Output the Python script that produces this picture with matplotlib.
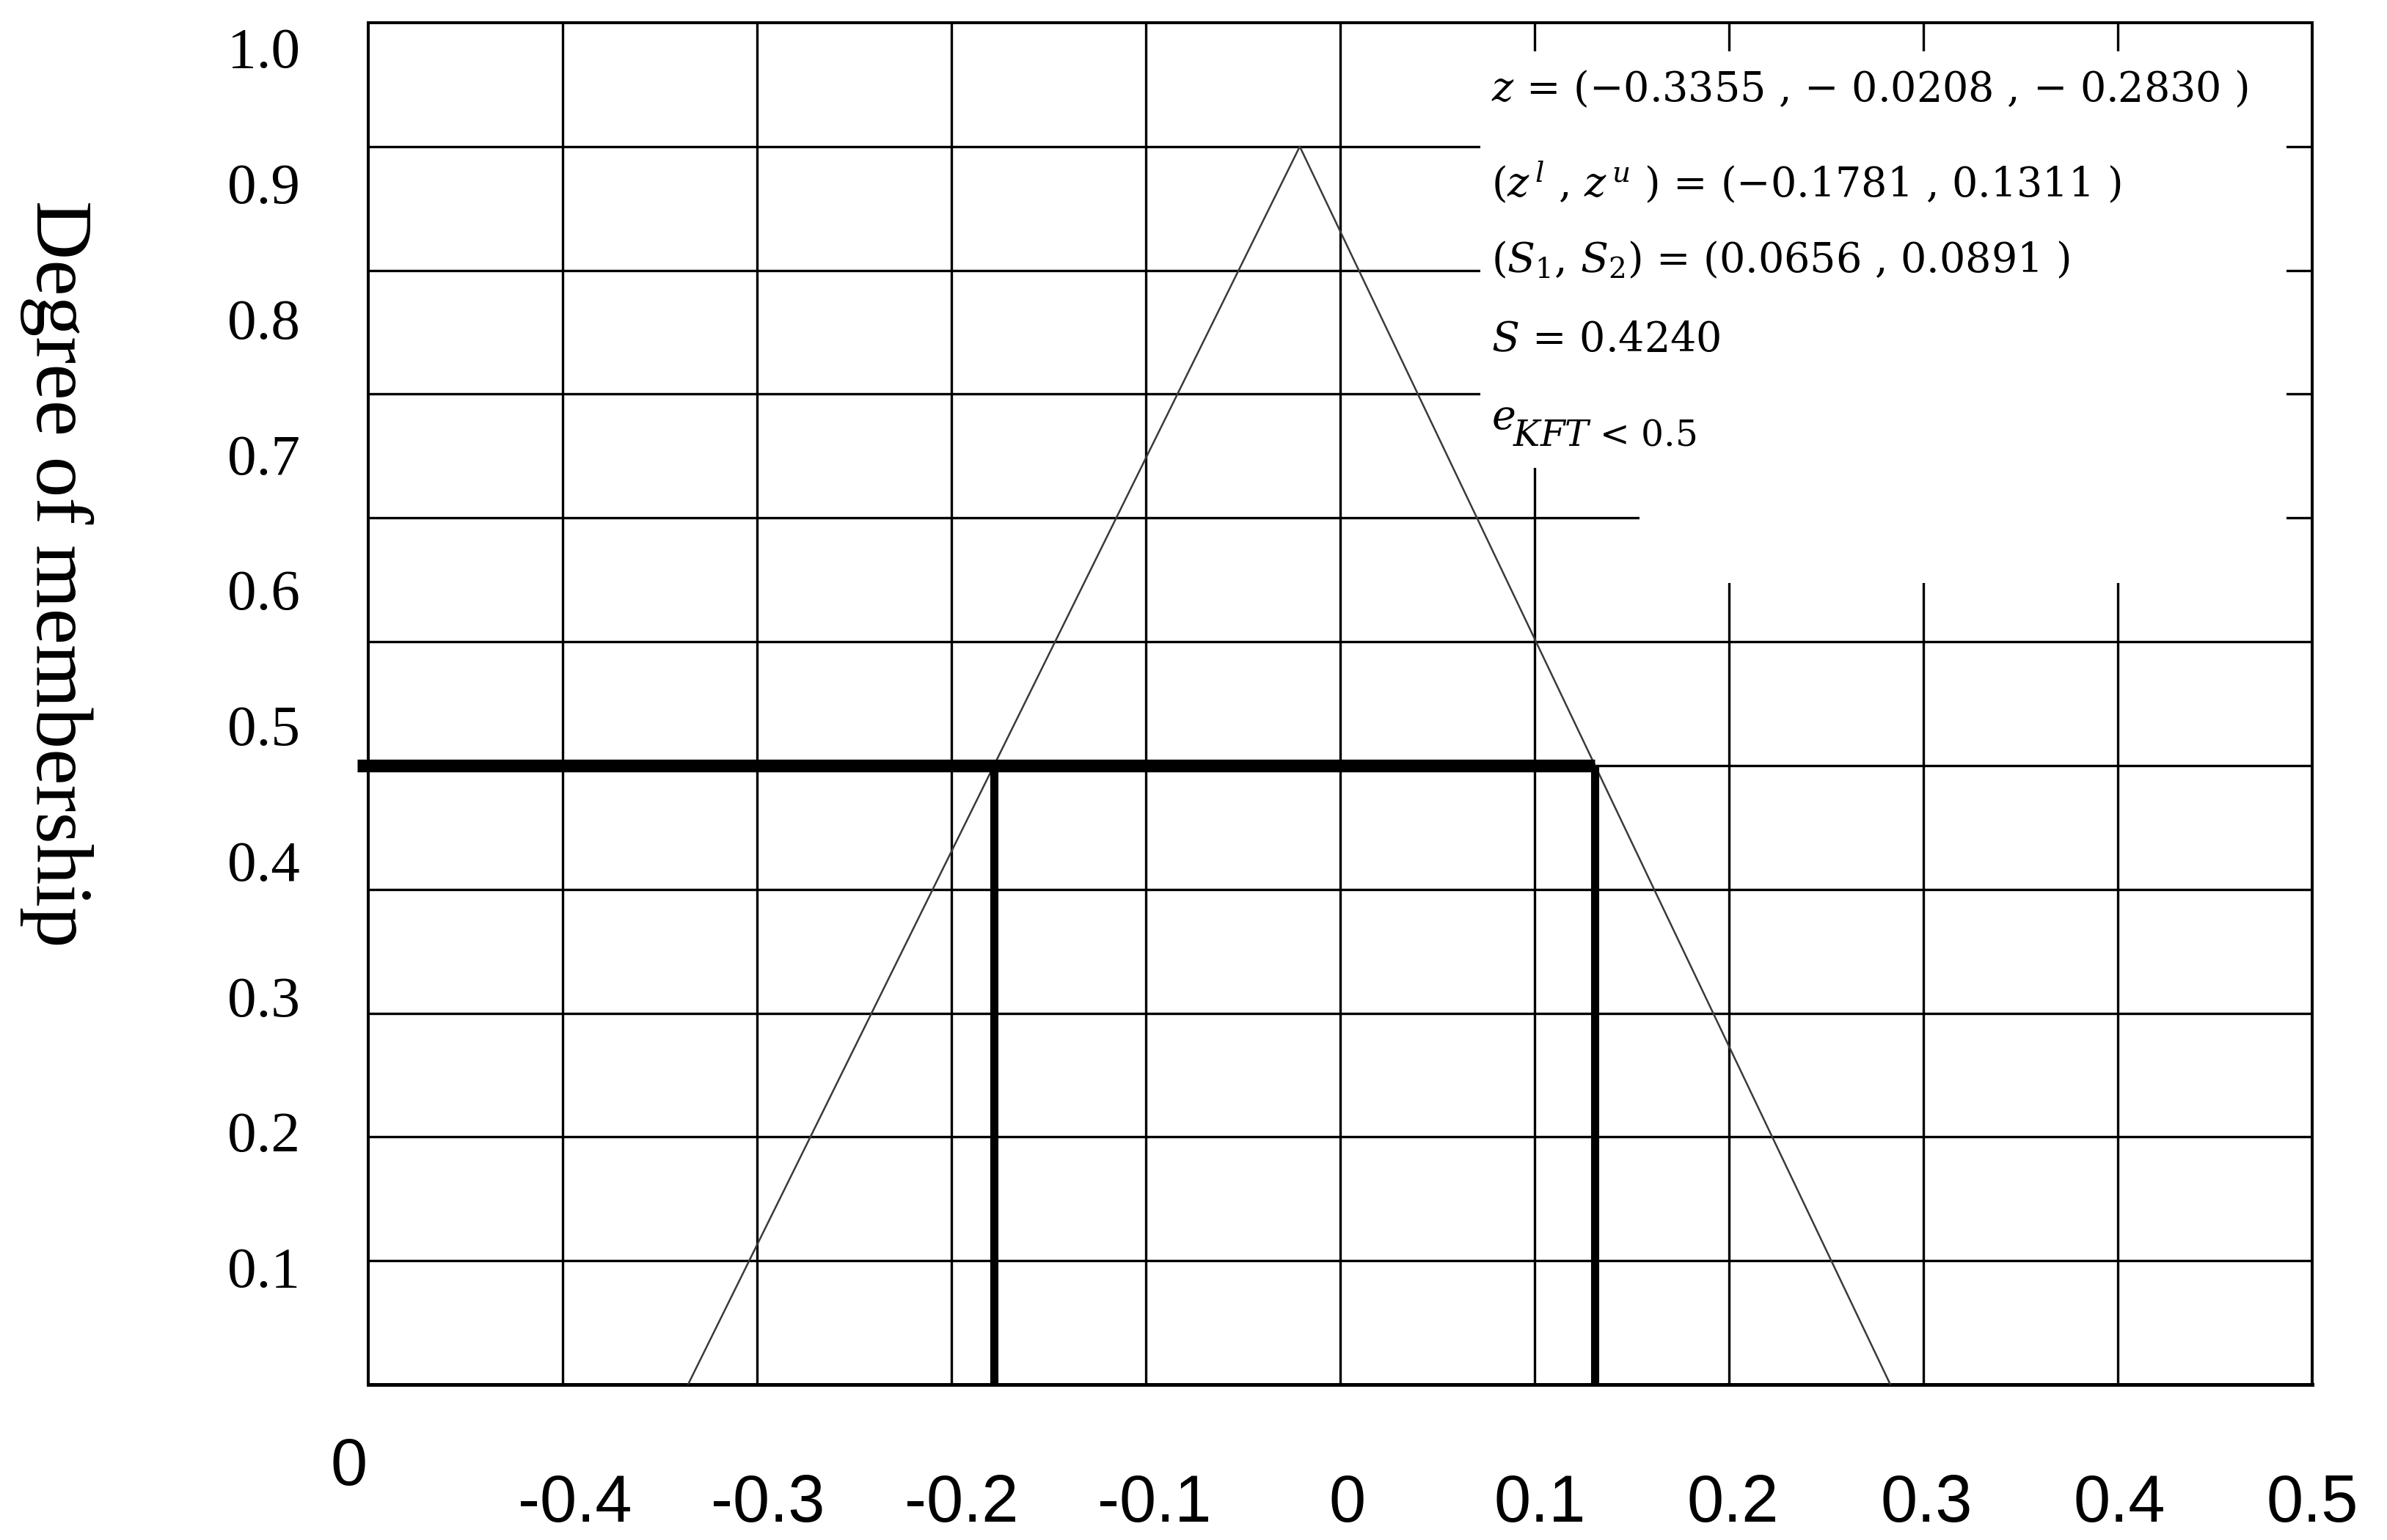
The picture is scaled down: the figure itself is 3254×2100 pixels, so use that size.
import matplotlib
matplotlib.use("Agg")
import matplotlib.pyplot as plt
from matplotlib.patches import Rectangle
import numpy as np

# ---------------- data ----------------
tri_x = [-0.3355, -0.0208, 0.2830]          # triangular fuzzy number z
tri_y = [0.0, 1.0, 0.0]
alpha_level = 0.5                            # alpha-cut level
cut_lower = -0.1781                          # z^l
cut_upper = 0.1311                           # z^u

grid_x = [-0.4, -0.3, -0.2, -0.1, 0.0, 0.1, 0.2, 0.3, 0.4]
grid_y = [0.1, 0.2, 0.3, 0.4, 0.5, 0.6, 0.7, 0.8, 0.9, 1.0]

x_tick_values = [-0.4, -0.3, -0.2, -0.1, 0.0, 0.1, 0.2, 0.3, 0.4, 0.5]
x_tick_labels = ["-0.4", "-0.3", "-0.2", "-0.1", "0", "0.1", "0.2", "0.3", "0.4", "0.5"]
y_tick_values = [0.1, 0.2, 0.3, 0.4, 0.5, 0.6, 0.7, 0.8, 0.9, 1.0]
y_tick_labels = ["0.1", "0.2", "0.3", "0.4", "0.5", "0.6", "0.7", "0.8", "0.9", "1.0"]

annotation_lines = [
    r"$z$ = (−0.3355 , − 0.0208 , − 0.2830 )",
    r"($z^{\,l}$ , $z^{\,u}$ ) = (−0.1781 , 0.1311 )",
    r"($S_1$, $S_2$) = (0.0656 , 0.0891 )",
    r"$S$ = 0.4240",
]
e_text = r"$e$"
kft_text = r"$KFT$ < 0.5"
y_label = "Degree of membership"

# ---------------- style ----------------
plt.rcParams["mathtext.fontset"] = "dejavuserif"

W, H = 3254, 2100
fig = plt.figure(figsize=(W / 100, H / 100), dpi=100)
left_px, right_px, top_px, bot_px = 502, 3152, 31, 1888
rect = [left_px / W, 1 - bot_px / H, (right_px - left_px) / W, (bot_px - top_px) / H]

# label axes (tick labels are offset from the grid in the original)
axl = fig.add_axes(rect, frameon=False)
axl.set_xlim(-0.5 - 0.0072, 0.5 - 0.0072)
axl.set_ylim(0.013407, 1.01839)
axl.set_xticks(x_tick_values)
axl.set_xticklabels(x_tick_labels, fontsize=65, family="Liberation Sans")
axl.set_yticks(y_tick_values)
axl.set_yticklabels(y_tick_labels, fontsize=57, family="Liberation Serif")
axl.tick_params(axis="x", length=0, pad=87)
axl.tick_params(axis="y", length=0, pad=67)

# main axes
ax = fig.add_axes(rect)
ax.patch.set_alpha(0)
ax.set_xlim(-0.5, 0.5)
ax.set_ylim(0, 1.1)
ax.set_xticks(grid_x)
ax.set_yticks(grid_y)
ax.tick_params(length=0, labelbottom=False, labelleft=False)
ax.set_axisbelow(True)
ax.grid(True, color="black", linewidth=2.4)
for s in ax.spines.values():
    s.set_linewidth(2.9)
    s.set_color("black")
ax.spines["bottom"].set_linewidth(3.6)

# white region behind the annotation block
ax.add_patch(Rectangle((0.0721, 0.7407), 0.4868 - 0.0721, 1.077 - 0.7407,
                       facecolor="white", edgecolor="none", zorder=1))
ax.add_patch(Rectangle((0.154, 0.6477), 0.4868 - 0.154, 0.7407 - 0.6477,
                       facecolor="white", edgecolor="none", zorder=1))

# triangular membership function
ax.plot(tri_x, tri_y, color="#3a3a3a", linewidth=1.8, zorder=3)

# alpha cut
ax.plot([-0.5057, cut_upper], [alpha_level, alpha_level], color="black",
        linewidth=12.5, solid_capstyle="butt", clip_on=False, zorder=4)
ax.vlines([cut_lower, cut_upper], 0, alpha_level, color="black",
          linewidth=8, zorder=4)

# annotation block
tx = 0.5777
baselines = [0.9424, 0.8724, 0.8169, 0.7588]
for s, yb in zip(annotation_lines, baselines):
    ax.text(tx, yb, s, transform=ax.transAxes, ha="left", va="baseline",
            fontsize=40, family="DejaVu Serif", zorder=5)
ax.text(tx, 0.7017, e_text, transform=ax.transAxes, ha="left", va="baseline",
        fontsize=40, family="DejaVu Serif", zorder=5)
ax.text(0.5887, 0.6898, kft_text, transform=ax.transAxes, ha="left", va="baseline",
        fontsize=35, family="DejaVu Serif", zorder=5)

# stray "0" label and y-axis title
fig.text(476 / W, 1 - 2002 / H, "0", ha="center", va="center",
         fontsize=65, family="Liberation Sans")
fig.text(77 / W, 1 - 782 / H, y_label, rotation=270, ha="center", va="center",
         fontsize=80, family="Liberation Serif")

fig.savefig("out.png", dpi=100, facecolor="white")
